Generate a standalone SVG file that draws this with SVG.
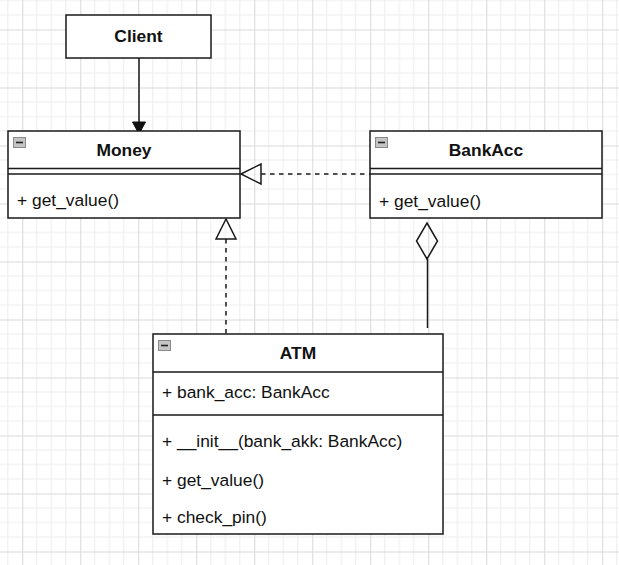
<svg xmlns="http://www.w3.org/2000/svg" width="619" height="565" viewBox="0 0 619 565">
<style>
.box{fill:#fff;stroke:#1a1a1a;stroke-width:1.5}
.ln{fill:none;stroke:#1a1a1a;stroke-width:1.5}
.dash{fill:none;stroke:#1a1a1a;stroke-width:1.5;stroke-dasharray:4.5 4.5}
.t{font-family:"Liberation Sans",Arial,sans-serif;font-size:17.4px;fill:#111}
.b{font-weight:bold;text-anchor:middle}
.ic{fill:#c4c4c4;stroke:#8a8a8a;stroke-width:1}
.icm{stroke:#222;stroke-width:1.6}
</style>
<defs>
<pattern id="grid" patternUnits="userSpaceOnUse" x="22.3" y="29.5" width="58" height="58">
<path d="M14.5 0V58M29 0V58M43.5 0V58M0 14.5H58M0 29H58M0 43.5H58" stroke="#ededed" stroke-width="1" fill="none"/>
<path d="M0.5 0V58M0 0.5H58" stroke="#d9d9d9" stroke-width="1" fill="none"/>
</pattern>
</defs>
<rect width="619" height="565" fill="#fff"/>
<rect width="619" height="565" fill="url(#grid)"/>
<g id="connectors">
<path class="ln" d="M139 58V122"/>
<path d="M132.5 122H145.5L139 134Z" fill="#111" stroke="#111" stroke-width="1"/>
<path class="dash" d="M261 174H370"/>
<path class="ln" d="M241 174L261 164V184Z" fill="#fff"/>
<path class="dash" d="M226 239V334"/>
<path class="ln" d="M226 219L216 239H236Z" fill="#fff"/>
<path class="ln" d="M427.5 259V328"/>
<path class="ln" d="M427 223L437.5 241L427 259L416.5 241Z" fill="#fff"/>
</g>
<g id="client">
<rect class="box" x="66" y="15" width="145" height="43"/>
<text class="t b" x="138.5" y="42">Client</text>
</g>
<g id="money">
<rect class="box" x="8" y="131" width="232" height="87"/>
<path class="ln" d="M8 168.5H240M8 174H240"/>
<rect class="ic" x="13.5" y="137.5" width="12" height="10"/>
<path class="icm" d="M16 142.5H23"/>
<text class="t b" x="124" y="156">Money</text>
<text class="t" x="17" y="206">+ get_value()</text>
</g>
<g id="bankacc">
<rect class="box" x="370" y="131" width="232" height="87"/>
<path class="ln" d="M370 168.5H602M370 174H602"/>
<rect class="ic" x="375.5" y="137.5" width="12" height="10"/>
<path class="icm" d="M378 142.5H385"/>
<text class="t b" x="486" y="156">BankAcc</text>
<text class="t" x="379" y="207">+ get_value()</text>
</g>
<g id="atm">
<rect class="box" x="153" y="334" width="290" height="200"/>
<path class="ln" d="M153 372H443M153 415H443"/>
<rect class="ic" x="158.5" y="340.5" width="12" height="10"/>
<path class="icm" d="M161 345.5H168"/>
<text class="t b" x="298" y="359">ATM</text>
<text class="t" x="162" y="398">+ bank_acc: BankAcc</text>
<text class="t" x="162" y="447">+ __init__(bank_akk: BankAcc)</text>
<text class="t" x="162" y="485.5">+ get_value()</text>
<text class="t" x="162" y="523">+ check_pin()</text>
</g>
</svg>
